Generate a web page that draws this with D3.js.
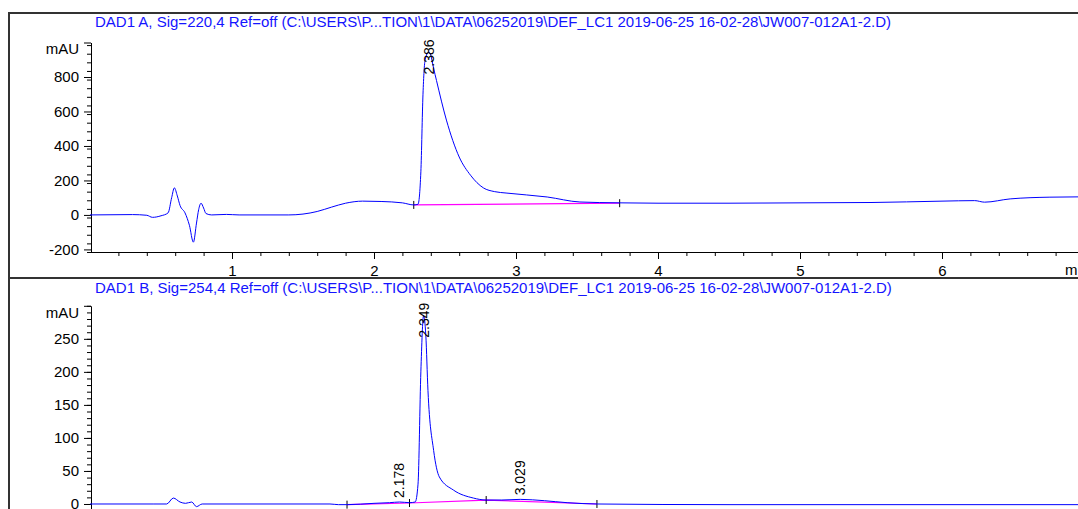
<html>
<head>
<meta charset="utf-8">
<title>DAD1 chromatogram</title>
<script src="https://d3js.org/d3.v7.min.js"></script>
<style>
  body { margin: 0; background: #fff; }
  svg text { font-family: "Liberation Sans", Arial, sans-serif; }
  .trace { fill: none; stroke: #0000ff; stroke-width: 1px; }
  .base { fill: none; stroke: #ff00ff; stroke-width: 1.2px; }
  .title { fill: #1414ff; font-size: 15px; }
  .frame { stroke: #333; stroke-width: 2px; }
  .axis path, .axis line { stroke: #000; }
  .axis text { font-size: 15px; fill: #000; }
  .peak { font-size: 14px; fill: #000; }
  .mark { stroke: #000; stroke-width: 1px; }
</style>
</head>
<body>
<script>
// ---- data ----
var titleA = "DAD1 A, Sig=220,4 Ref=off (C:\\USERS\\P...TION\\1\\DATA\\06252019\\DEF_LC1 2019-06-25 16-02-28\\JW007-012A1-2.D)";
var titleB = "DAD1 B, Sig=254,4 Ref=off (C:\\USERS\\P...TION\\1\\DATA\\06252019\\DEF_LC1 2019-06-25 16-02-28\\JW007-012A1-2.D)";

// signal A, 220 nm (min, mAU)
var timeA = [0, 0.3, 0.4, 0.44, 0.5, 0.55, 0.575, 0.594, 0.615, 0.634, 0.669, 0.70, 0.728, 0.75, 0.765, 0.782, 0.80, 0.817, 0.857,
  0.96, 1.05, 1.4, 1.5, 1.6, 1.7, 1.8, 1.92, 2.05, 2.2, 2.28, 2.31, 2.33, 2.345, 2.36, 2.386, 2.40, 2.42, 2.44, 2.51, 2.6, 2.68,
  2.77, 2.85, 2.93, 3.22, 3.45, 3.73, 4.0, 4.5, 5.0, 5.5, 6.0, 6.23, 6.3, 6.48, 6.76, 7.0];
var sigA = [0, 2, -2, -14, -5, 12, 100, 157, 110, 55, 12, -60, -158, -47, 30, 68, 40, 8, 0,
  3, 0, 0, 5, 20, 45, 68, 80, 78, 70, 58, 62, 250, 700, 900, 945, 925, 850, 780, 550, 336, 230,
  157, 135, 127, 104, 75, 70, 68, 68, 70, 72, 80, 83, 74, 93, 103, 105];
var baseTimeA = [2.28, 3.73];
var baseSigA = [58, 68];
var peakTimeA = [2.386];
var peakSigA = [945];

// signal B, 254 nm
var timeB = [0, 0.45, 0.54, 0.587, 0.634, 0.673, 0.716, 0.75, 0.79, 1.69, 1.75, 1.81, 2.0, 2.11, 2.18, 2.25, 2.29, 2.31, 2.33,
  2.349, 2.365, 2.38, 2.42, 2.46, 2.56, 2.7, 2.79, 2.9, 3.03, 3.2, 3.36, 3.57, 4.5, 7.0];
var sigB = [0, 0, 0, 9, 3, 1, 3, -4, 0, 0, -1, -1, 1, 2, 3, 2, 3, 30, 200,
  285, 255, 172, 81, 41, 21, 9, 6, 6, 7, 5, 2, 0, -1, -1];
var baseTimeB = [1.81, 2.25, 2.79, 3.57];
var baseSigB = [-1, 1.5, 6, 0];
var peakTimeB = [2.178, 2.349, 3.029];
var peakSigB = [3, 285, 7];

var xTicks = [1, 2, 3, 4, 5, 6];
var yTicksA = [-200, 0, 200, 400, 600, 800, 1000];
var yTicksB = [0, 50, 100, 150, 200, 250, 300];

// ---- layout ----
var W = 1078, H = 509;
var svg = d3.select("body").append("svg").attr("width", W).attr("height", H);

var x = d3.scaleLinear().domain([0, 7]).range([90, 1084]);

// frame
svg.append("line").attr("class", "frame").attr("x1", 9).attr("x2", W).attr("y1", 13).attr("y2", 13);
svg.append("line").attr("class", "frame").attr("x1", 9).attr("x2", 9).attr("y1", 12).attr("y2", H);
svg.append("line").attr("class", "frame").attr("x1", 9).attr("x2", W).attr("y1", 278).attr("y2", 278);

function drawPanel(p) {
  var y = d3.scaleLinear().domain(p.yDomain).range(p.yRange);
  var g = svg.append("g");

  g.append("text").attr("class", "title").attr("x", 95).attr("y", p.titleY).text(p.title);

  // y axis, minor ticks then major
  var minor = d3.range(p.yDomain[0], p.yDomain[1] + 0.001, p.yMinor)
    .filter(function (v) { return v >= y.domain()[0]; });
  g.append("g").attr("class", "axis").attr("transform", "translate(91,0)")
    .call(d3.axisLeft(y).tickValues(minor).tickSize(4).tickSizeOuter(0).tickFormat(""))
    .select(".domain").remove();
  var top = p.yTicks[p.yTicks.length - 1];
  g.append("g").attr("class", "axis").attr("transform", "translate(91,0)")
    .call(d3.axisLeft(y).tickValues(p.yTicks).tickSize(7).tickSizeOuter(0).tickPadding(5)
      .tickFormat(function (d) { return d === top ? "mAU" : d; }))
    .call(function (a) {
      a.selectAll("text").filter(function (d) { return d === top; }).attr("dy", "0.75em");
    });

  // x axis (only the top panel's is inside the picture)
  if (p.xAxisY < H) {
    var xMinor = d3.range(0.2, 7, 0.2);
    g.append("g").attr("class", "axis").attr("transform", "translate(0," + p.xAxisY + ")")
      .call(d3.axisBottom(x).tickValues(xMinor).tickSize(4).tickSizeOuter(0).tickFormat(""))
      .call(function (a) { a.select(".domain").attr("d", "M91,0.5H" + W); });
    g.append("g").attr("class", "axis").attr("transform", "translate(0," + p.xAxisY + ")")
      .call(d3.axisBottom(x).tickValues(xTicks).tickSize(7).tickPadding(6).tickFormat(d3.format("d")))
      .select(".domain").remove();
    g.append("text").attr("class", "axis").attr("x", 1065).attr("y", p.xAxisY + 23)
      .style("font-size", "15px").text("min");
  }

  // baseline
  var pts = function (t, v) { return t.map(function (d, i) { return [x(d), y(v[i])]; }); };
  g.append("path").attr("class", "base").attr("d", d3.line()(pts(p.baseT, p.baseV)));
  g.selectAll(".mark").data(pts(p.baseT, p.baseV)).enter().append("line")
    .attr("class", "mark")
    .attr("x1", function (d) { return d[0]; }).attr("x2", function (d) { return d[0]; })
    .attr("y1", function (d) { return d[1] - 4; }).attr("y2", function (d) { return d[1] + 4; });

  // trace
  g.append("path").attr("class", "trace")
    .attr("d", d3.line().curve(d3.curveMonotoneX)(pts(p.t, p.v)));

  // retention time labels, rotated, kept inside the plot top
  var plotTop = y(top);
  g.selectAll(".peak").data(pts(p.peakT, p.peakV)).enter().append("text")
    .attr("class", "peak")
    .attr("transform", function (d) {
      var yy = Math.max(d[1] - 4, plotTop - 3 + 35);
      return "translate(" + (d[0] + 5) + "," + yy + ") rotate(-90)";
    })
    .text(function (d, i) { return p.peakT[i].toFixed(3); });
}

drawPanel({
  title: titleA, titleY: 27,
  yDomain: [-215, 1000], yRange: [252, 42.5], yMinor: 50, yTicks: yTicksA,
  xAxisY: 252,
  t: timeA, v: sigA, baseT: baseTimeA, baseV: baseSigA, peakT: peakTimeA, peakV: peakSigA
});

drawPanel({
  title: titleB, titleY: 293,
  yDomain: [-10, 300], yRange: [510.6, 305.8], yMinor: 10, yTicks: yTicksB,
  xAxisY: 520,
  t: timeB, v: sigB, baseT: baseTimeB, baseV: baseSigB, peakT: peakTimeB, peakV: peakSigB
});
</script>
</body>
</html>
